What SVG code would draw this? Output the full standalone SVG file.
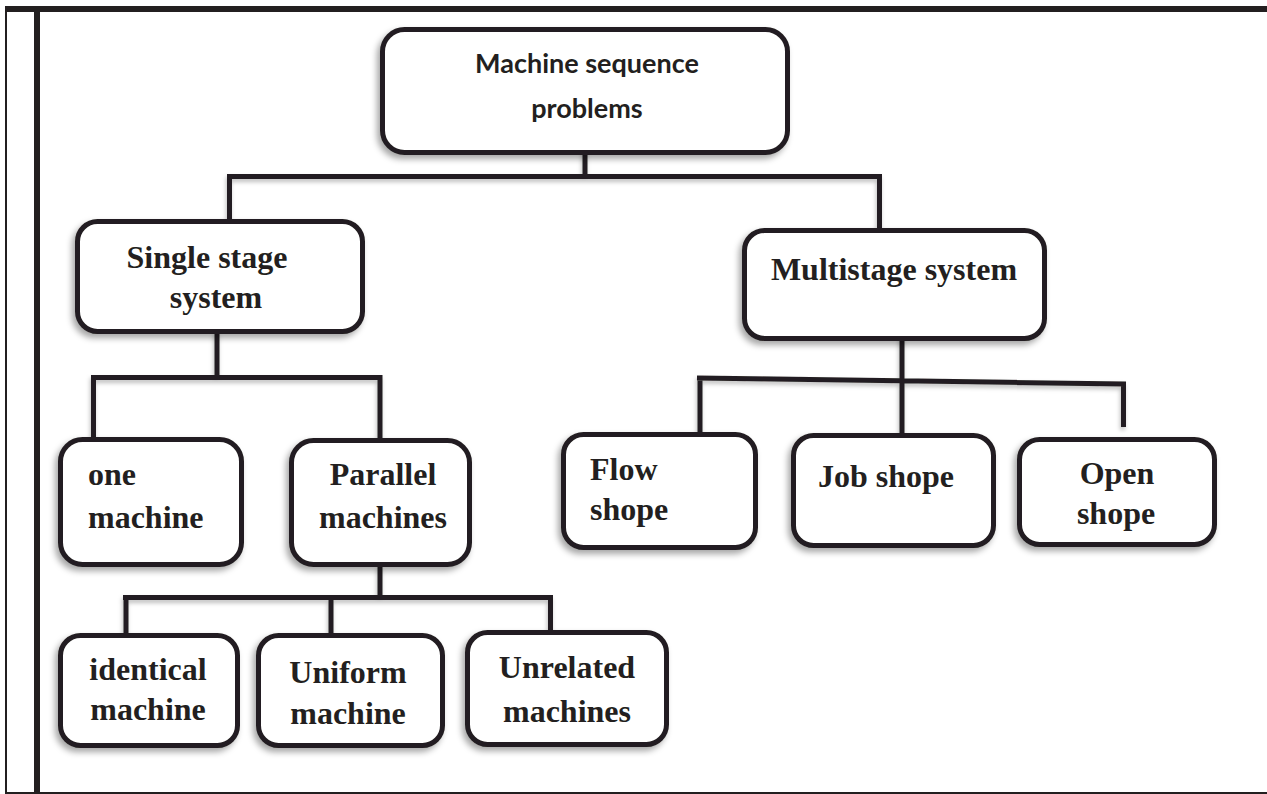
<svg xmlns="http://www.w3.org/2000/svg" width="1267" height="794" viewBox="0 0 1267 794">
<defs>
<filter id="sh" x="-20%" y="-20%" width="140%" height="150%">
<feDropShadow dx="-3" dy="4" stdDeviation="3" flood-color="#000" flood-opacity="0.35"/>
</filter>
<filter id="lsh" x="-5%" y="-50%" width="110%" height="300%">
<feDropShadow dx="-1" dy="3" stdDeviation="2" flood-color="#000" flood-opacity="0.25"/>
</filter>
</defs>
<style>
.box{fill:#fff;stroke:#231f20;stroke-width:5;filter:url(#sh)}
.ln{fill:none;stroke:#231f20;stroke-width:5;stroke-linecap:butt}
.t{font-family:"Liberation Serif","Times New Roman",serif;font-weight:700;font-size:32px;fill:#231f20}
.c{text-anchor:middle}
.s{font-family:Lato,"Open Sans",sans-serif;font-weight:700;font-size:27px;fill:#231f20;text-anchor:middle}
</style>
<rect width="1267" height="794" fill="#fff"/>
<g id="frame">
<rect x="5" y="6" width="1262" height="6" fill="#231f20"/>
<rect x="5" y="6" width="2" height="788" fill="#231f20"/>
<rect x="34" y="6" width="6" height="787" fill="#231f20"/>
<rect x="5" y="792" width="1262" height="2" fill="#231f20"/>
</g>
<g id="connectors" filter="url(#lsh)">
<path class="ln" d="M585 146V178M227 176.5H882M229.5 174V221M879.5 174V229"/>
<path class="ln" d="M217 331V379M91 377.5H382M93.5 375V437M380 375V438"/>
<path class="ln" d="M380 565V599M123 597.5H553M126 595V635M331 595V633M550.5 595V630"/>
<path class="ln" d="M902 336V437M697 378L1126 384M700 376V432M1123.5 382V427"/>
</g>
<g id="n-root"><rect class="box" x="382.5" y="29.5" width="405" height="123" rx="22"/>
<text class="s" x="587" y="73">Machine sequence</text><text class="s" x="587" y="118">problems</text></g>
<g id="n-single"><rect class="box" x="77.5" y="221.5" width="285" height="110" rx="20"/>
<text class="t c" x="207" y="268">Single stage</text><text class="t c" x="216" y="308">system</text></g>
<g id="n-multi"><rect class="box" x="744.5" y="230.5" width="300" height="108" rx="20"/>
<text class="t c" x="894" y="280">Multistage system</text></g>
<g id="n-one"><rect class="box" x="60.5" y="439.5" width="181" height="125" rx="22"/>
<text class="t" x="88" y="485">one</text><text class="t" x="88" y="528">machine</text></g>
<g id="n-parallel"><rect class="box" x="291.5" y="440.5" width="178" height="124" rx="22"/>
<text class="t c" x="383" y="485">Parallel</text><text class="t c" x="383" y="528">machines</text></g>
<g id="n-flow"><rect class="box" x="563.5" y="434.5" width="192" height="113" rx="20"/>
<text class="t" x="590" y="480">Flow</text><text class="t" x="590" y="520">shope</text></g>
<g id="n-job"><rect class="box" x="793.5" y="435.5" width="200" height="110" rx="20"/>
<text class="t c" x="886" y="487">Job shope</text></g>
<g id="n-open"><rect class="box" x="1019.5" y="439.5" width="195" height="105" rx="20"/>
<text class="t c" x="1117" y="484">Open</text><text class="t c" x="1116" y="524">shope</text></g>
<g id="n-identical"><rect class="box" x="60.5" y="635.5" width="177" height="110" rx="20"/>
<text class="t c" x="148" y="680">identical</text><text class="t c" x="148" y="720">machine</text></g>
<g id="n-uniform"><rect class="box" x="258.5" y="635.5" width="184" height="110" rx="20"/>
<text class="t c" x="348" y="683">Uniform</text><text class="t c" x="348" y="724">machine</text></g>
<g id="n-unrelated"><rect class="box" x="467.5" y="632.5" width="199" height="112" rx="20"/>
<text class="t c" x="567" y="678">Unrelated</text><text class="t c" x="567" y="722">machines</text></g>
</svg>
